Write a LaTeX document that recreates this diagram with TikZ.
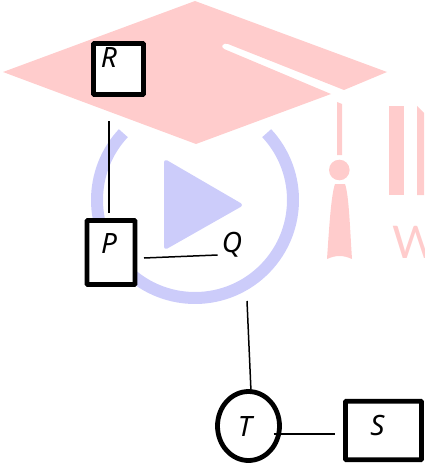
\documentclass[tikz,border=0pt]{standalone}
\usepackage{fontspec}
\setmainfont{Noto Sans}
\newfontfamily\wmfont{Lato}
\usetikzlibrary{calc,shapes.geometric}
\definecolor{wmred}{RGB}{255,204,204}
\definecolor{wmblue}{RGB}{204,204,250}
\tikzset{
  x=1pt,y=-1pt,
  capshape/.style={fill=wmred,draw=none},
  playshape/.style={fill=wmblue,draw=wmblue,line width=4pt,line join=round},
  ringshape/.style={draw=wmblue,line width=12pt},
  boxnode/.style={draw=black,fill=white,line width=4.6pt,rounded corners=0.6pt,inner sep=0pt,outer sep=0pt},
  tnode/.style={ellipse,draw=black,fill=white,line width=4.8pt,inner sep=0pt,outer sep=0pt,minimum width=62pt,minimum height=69pt},
  letter/.style={font=\fontsize{28}{28}\selectfont\itshape,inner sep=0pt,text=black},
  link/.style={draw=black,line width=1.5pt},
}
\begin{document}
\begin{tikzpicture}
\useasboundingbox (0,0) rectangle (424,468);
\begin{scope}
\clip (0,0) rectangle (424,468);
% cap
\fill[capshape] (3,72) -- (195,1) -- (387,72) -- (344,90) -- (228,44)
  .. controls (223,42) and (220,47) .. (224,49) -- (331,94) -- (196,144) -- cycle;
% tassel
\fill[capshape] (337,102) -- (342,104) -- (342,155) -- (337,155) -- cycle;
\fill[capshape] (339.3,170) circle (10.3);
\fill[capshape] (335,184) -- (345,184) .. controls (349,195) and (350,230) .. (352,259)
  .. controls (343,255) and (336,255) .. (327,259) .. controls (329,230) and (331,195) .. (335,184) -- cycle;
% bars
\fill[capshape] (389,106) rectangle (404,195);
\fill[capshape] (417,106) -- (424,113) -- (424,195) -- (417,195) -- cycle;
\node[font=\wmfont\fontsize{45}{45}\selectfont,text=wmred,anchor=base west,inner sep=0pt] (wm) at (392,258) {W};
% ring and play
\draw[ringshape] (195,200) ++(43:98 and -98) arc[start angle=-43,end angle=223,radius=98];
\path[playshape] (166,162) -- (240,205) -- (166,247) -- cycle;
\end{scope}
% nodes
\node[boxnode,minimum width=50pt,minimum height=51pt,label={[letter,xshift=-9.5pt,yshift=11pt]center:R}] (R) at (118.5,69) {};
\node[boxnode,minimum width=48pt,minimum height=64pt,label={[letter,xshift=-2pt,yshift=9pt]center:P}] (P) at (111,252.5) {};
\node[letter] (Q) at (232,245) {Q};
\node[tnode,label={[letter,xshift=-3.5pt]center:T}] (T) at (248.5,426) {};
\node[boxnode,minimum width=76pt,minimum height=58.5pt,label={[letter,xshift=-6pt,yshift=5pt]center:S}] (S) at (383.5,430.5) {};
\coordinate (tfree) at (247,301);
% connectors
\draw[link] ([xshift=-9.5pt,yshift=-27pt]R.south) -- ([xshift=-2pt,yshift=8pt]P.north);
\draw[link] ([xshift=9pt,yshift=-5.5pt]P.east) -- ([xshift=-4pt,yshift=-10pt]Q.west);
\draw[link] (tfree) -- ([xshift=2.5pt]T.north);
\draw[link] ([xshift=-6pt,yshift=-8pt]T.east) -- ([xshift=-11pt,yshift=-3.5pt]S.west);
\end{tikzpicture}
\end{document}
